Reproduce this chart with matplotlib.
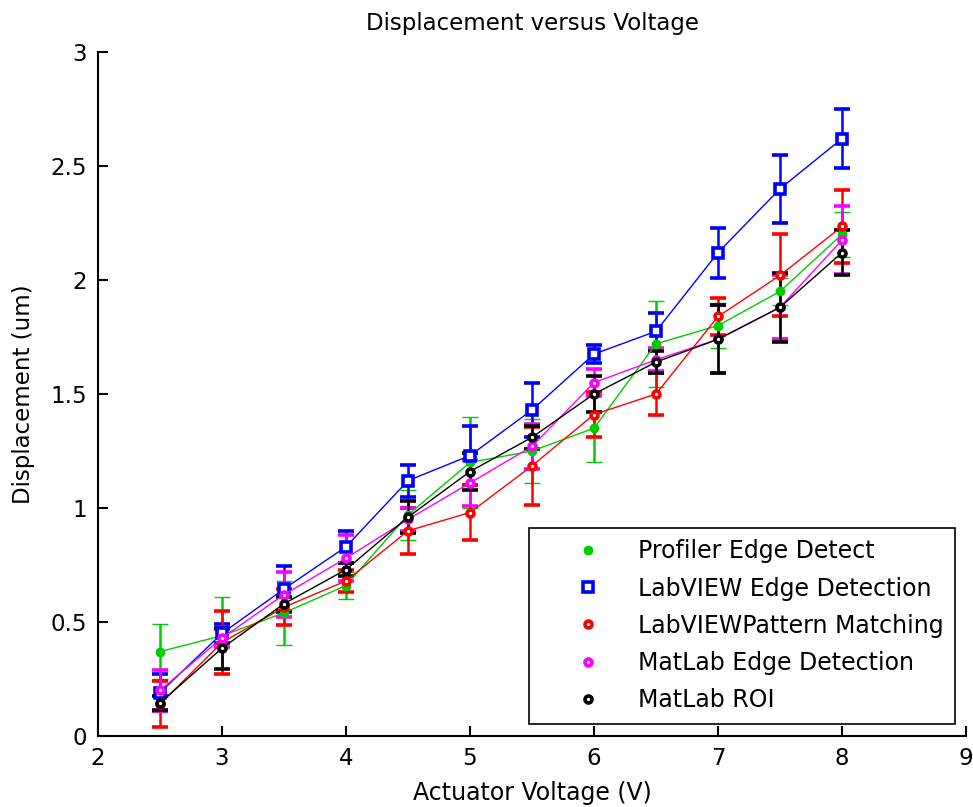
import matplotlib
matplotlib.use("Agg")
import matplotlib.pyplot as plt
from matplotlib.lines import Line2D

plt.rcParams['font.family'] = ['DejaVu Sans']

voltage = [2.5, 3, 3.5, 4, 4.5, 5, 5.5, 6, 6.5, 7, 7.5, 8]

profiler = [0.37, 0.44, 0.54, 0.66, 0.97, 1.20, 1.25, 1.35, 1.72, 1.80, 1.95, 2.20]
profiler_err = [0.12, 0.17, 0.14, 0.06, 0.11, 0.20, 0.14, 0.15, 0.19, 0.10, 0.06, 0.10]

lv_edge = [0.19, 0.45, 0.645, 0.83, 1.12, 1.23, 1.43, 1.675, 1.775, 2.12, 2.40, 2.62]
lv_edge_err = [0.08, 0.04, 0.10, 0.07, 0.07, 0.13, 0.12, 0.04, 0.08, 0.11, 0.15, 0.13]

lv_pattern = [0.14, 0.41, 0.565, 0.68, 0.90, 0.98, 1.185, 1.41, 1.50, 1.84, 2.02, 2.235]
lv_pattern_err = [0.10, 0.14, 0.08, 0.05, 0.10, 0.12, 0.17, 0.10, 0.09, 0.08, 0.18, 0.16]

ml_edge = [0.20, 0.43, 0.62, 0.78, 0.95, 1.11, 1.27, 1.55, 1.65, 1.74, 1.88, 2.175]
ml_edge_err = [0.09, 0.04, 0.10, 0.10, 0.05, 0.10, 0.10, 0.06, 0.05, 0.15, 0.14, 0.15]

ml_roi = [0.145, 0.385, 0.58, 0.73, 0.96, 1.16, 1.31, 1.50, 1.64, 1.74, 1.88, 2.12]
ml_roi_err = [0.03, 0.09, 0.03, 0.03, 0.07, 0.08, 0.05, 0.08, 0.05, 0.15, 0.15, 0.10]

labels = ["Profiler Edge Detect", "LabVIEW Edge Detection", "LabVIEWPattern Matching",
          "MatLab Edge Detection", "MatLab ROI"]
colors = ["#00cc00", "#0000ff", "#ff0000", "#ff00ff", "#000000"]
markers = ["o", "s", "o", "o", "o"]

fig = plt.figure(figsize=(9.73, 8.07), dpi=100)
ax = fig.add_axes([98/973, 71/807, 868/973, 684/807])

series = [(profiler, profiler_err), (lv_edge, lv_edge_err), (lv_pattern, lv_pattern_err),
          (ml_edge, ml_edge_err), (ml_roi, ml_roi_err)]

handles = []
for (vals, errs), col, mk, lab in zip(series, colors, markers, labels):
    if mk == "s":
        mstyle = dict(marker="s", markersize=6.5, markerfacecolor="white",
                      markeredgecolor=col, markeredgewidth=2.6)
    elif col == "#00cc00":
        mstyle = dict(marker="o", markersize=6, markerfacecolor=col,
                      markeredgecolor=col, markeredgewidth=1)
    else:
        mstyle = dict(marker="o", markersize=5, markerfacecolor="white",
                      markeredgecolor=col, markeredgewidth=2.6)
    ax.errorbar(voltage, vals, yerr=errs, color=col, linewidth=1.0,
                elinewidth=1.8, capsize=6, capthick=1.8, **mstyle)
    handles.append(Line2D([], [], linestyle="none", color=col, **mstyle))

ax.set_xlim(2, 9)
ax.set_ylim(0, 3)
ax.set_xticks([2, 3, 4, 5, 6, 7, 8, 9])
ax.set_yticks([0, 0.5, 1, 1.5, 2, 2.5, 3])
ax.set_yticklabels(["0", "0.5", "1", "1.5", "2", "2.5", "3"])

ax.spines["top"].set_visible(False)
ax.spines["right"].set_visible(False)
for s in ("left", "bottom"):
    ax.spines[s].set_linewidth(1.5)
ax.tick_params(direction="in", length=7, width=1.5, labelsize=16.5, pad=8)

ax.set_title("Displacement versus Voltage", fontsize=16.5, pad=16)
ax.set_xlabel("Actuator Voltage (V)", fontsize=17, labelpad=8)
ax.set_ylabel("Displacement (um)", fontsize=16.5, labelpad=11)

leg = ax.legend(handles, labels, loc="lower right",
                bbox_to_anchor=((955 - 98) / 868, (736 - 724) / 684),
                borderaxespad=0, fontsize=17, frameon=True, fancybox=False,
                framealpha=1, edgecolor="black", handletextpad=0.1,
                labelspacing=0.56, borderpad=0.5, handlelength=4.0)
leg.get_frame().set_linewidth(1.2)

fig.savefig("out.png", dpi=100)
